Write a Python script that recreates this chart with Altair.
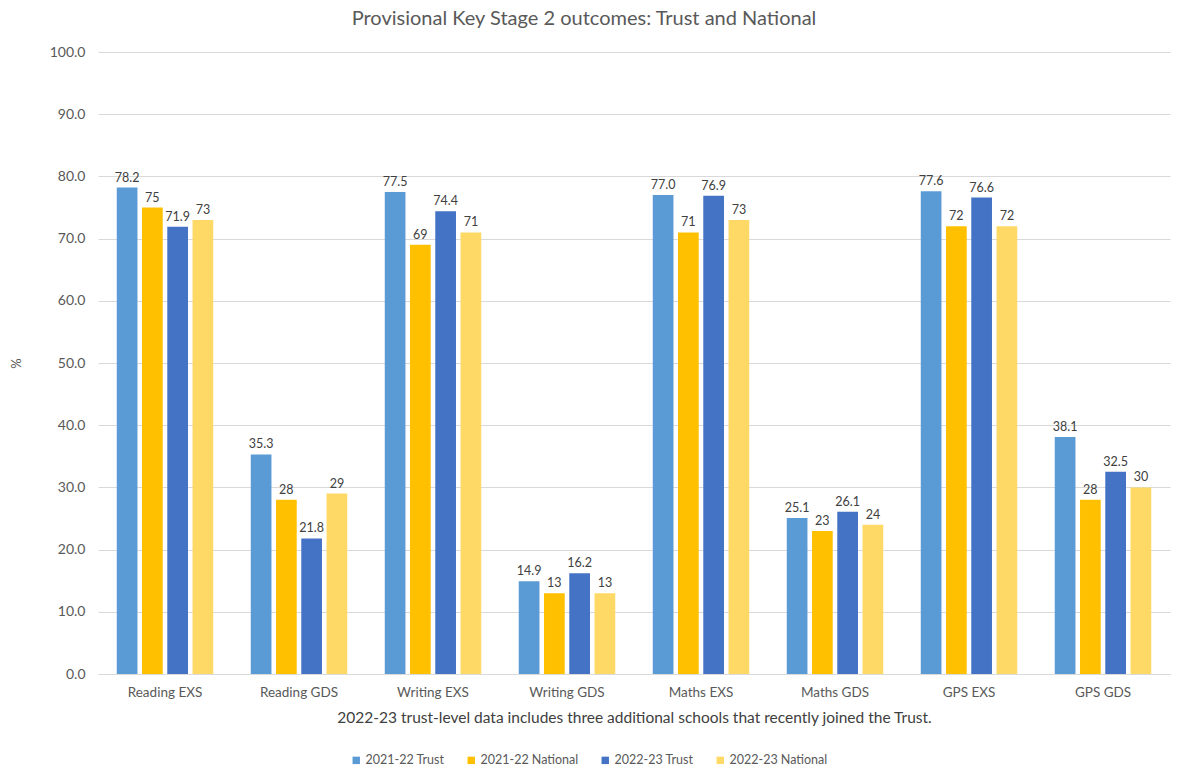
import altair as alt
import pandas as pd

categories = ["Reading EXS", "Reading GDS", "Writing EXS", "Writing GDS",
              "Maths EXS", "Maths GDS", "GPS EXS", "GPS GDS"]
series = ["2021-22 Trust", "2021-22 National", "2022-23 Trust", "2022-23 National"]
trust_2122 = [78.2, 35.3, 77.5, 14.9, 77.0, 25.1, 77.6, 38.1]
national_2122 = [75, 28, 69, 13, 71, 23, 72, 28]
trust_2223 = [71.9, 21.8, 74.4, 16.2, 76.9, 26.1, 76.6, 32.5]
national_2223 = [73, 29, 71, 13, 73, 24, 72, 30]
colors = ["#5B9BD5", "#FFC000", "#4472C4", "#FFD966"]

rows = []
for s, vals, dec in zip(series, [trust_2122, national_2122, trust_2223, national_2223],
                        [True, False, True, False]):
    for c, v in zip(categories, vals):
        rows.append({"category": c, "series": s, "value": v,
                     "label": f"{v:.1f}" if dec else f"{v:g}"})
df = pd.DataFrame(rows)

FONT = "Lato"
GREY = "#595959"

x = alt.X("category:N", sort=categories,
          scale=alt.Scale(paddingInner=0.28, paddingOuter=0.14),
          axis=alt.Axis(title="2022-23 trust-level data includes three additional schools that recently joined the Trust.",
                        labelAngle=0, ticks=False, domainColor="#d9d9d9",
                        labelPadding=11, labelFontSize=13.5, labelColor=GREY,
                        titleFontSize=15.5, titleColor="#404040", titleFontWeight="normal",
                        titlePadding=12, labelFont=FONT, titleFont=FONT))
xo = alt.XOffset("series:N", sort=series, scale=alt.Scale(paddingInner=0.18))

bars = alt.Chart(df).mark_bar().encode(
    x=x, xOffset=xo,
    y=alt.Y("value:Q", scale=alt.Scale(domain=[0, 100]),
            axis=alt.Axis(title="%", values=list(range(0, 101, 10)), format=".1f",
                          ticks=False, domain=False, gridColor="#d9d9d9",
                          labelFontSize=14, labelColor=GREY, labelPadding=13,
                          titleFontSize=13, titleColor=GREY, titleFontWeight="normal",
                          titlePadding=26, labelFont=FONT, titleFont=FONT)),
    color=alt.Color("series:N", sort=series,
                    scale=alt.Scale(domain=series, range=colors),
                    legend=alt.Legend(orient="none", legendX=252, legendY=702,
                                      direction="horizontal", title=None,
                                      symbolType="square", symbolSize=55,
                                      labelFontSize=12.5, labelColor=GREY, labelFont=FONT,
                                      labelOffset=3, columnPadding=20)),
)

labels = alt.Chart(df).mark_text(dy=-10, fontSize=12.5, color="#404040", font=FONT).encode(
    x=alt.X("category:N", sort=categories), xOffset=xo,
    y="value:Q", text="label:N")

chart = (bars + labels).properties(
    width=1072, height=622,
    title=alt.Title("Provisional Key Stage 2 outcomes: Trust and National",
                    fontSize=20, font=FONT, color=GREY, fontWeight="normal",
                    anchor="middle", dx=-50, offset=16),
    autosize=alt.AutoSizeParams(type="none"),
    padding={"left": 98, "top": 52, "right": 20, "bottom": 97},
).configure_view(stroke=None)

chart.save("out.html", embed_options={"renderer": "svg", "actions": False})
